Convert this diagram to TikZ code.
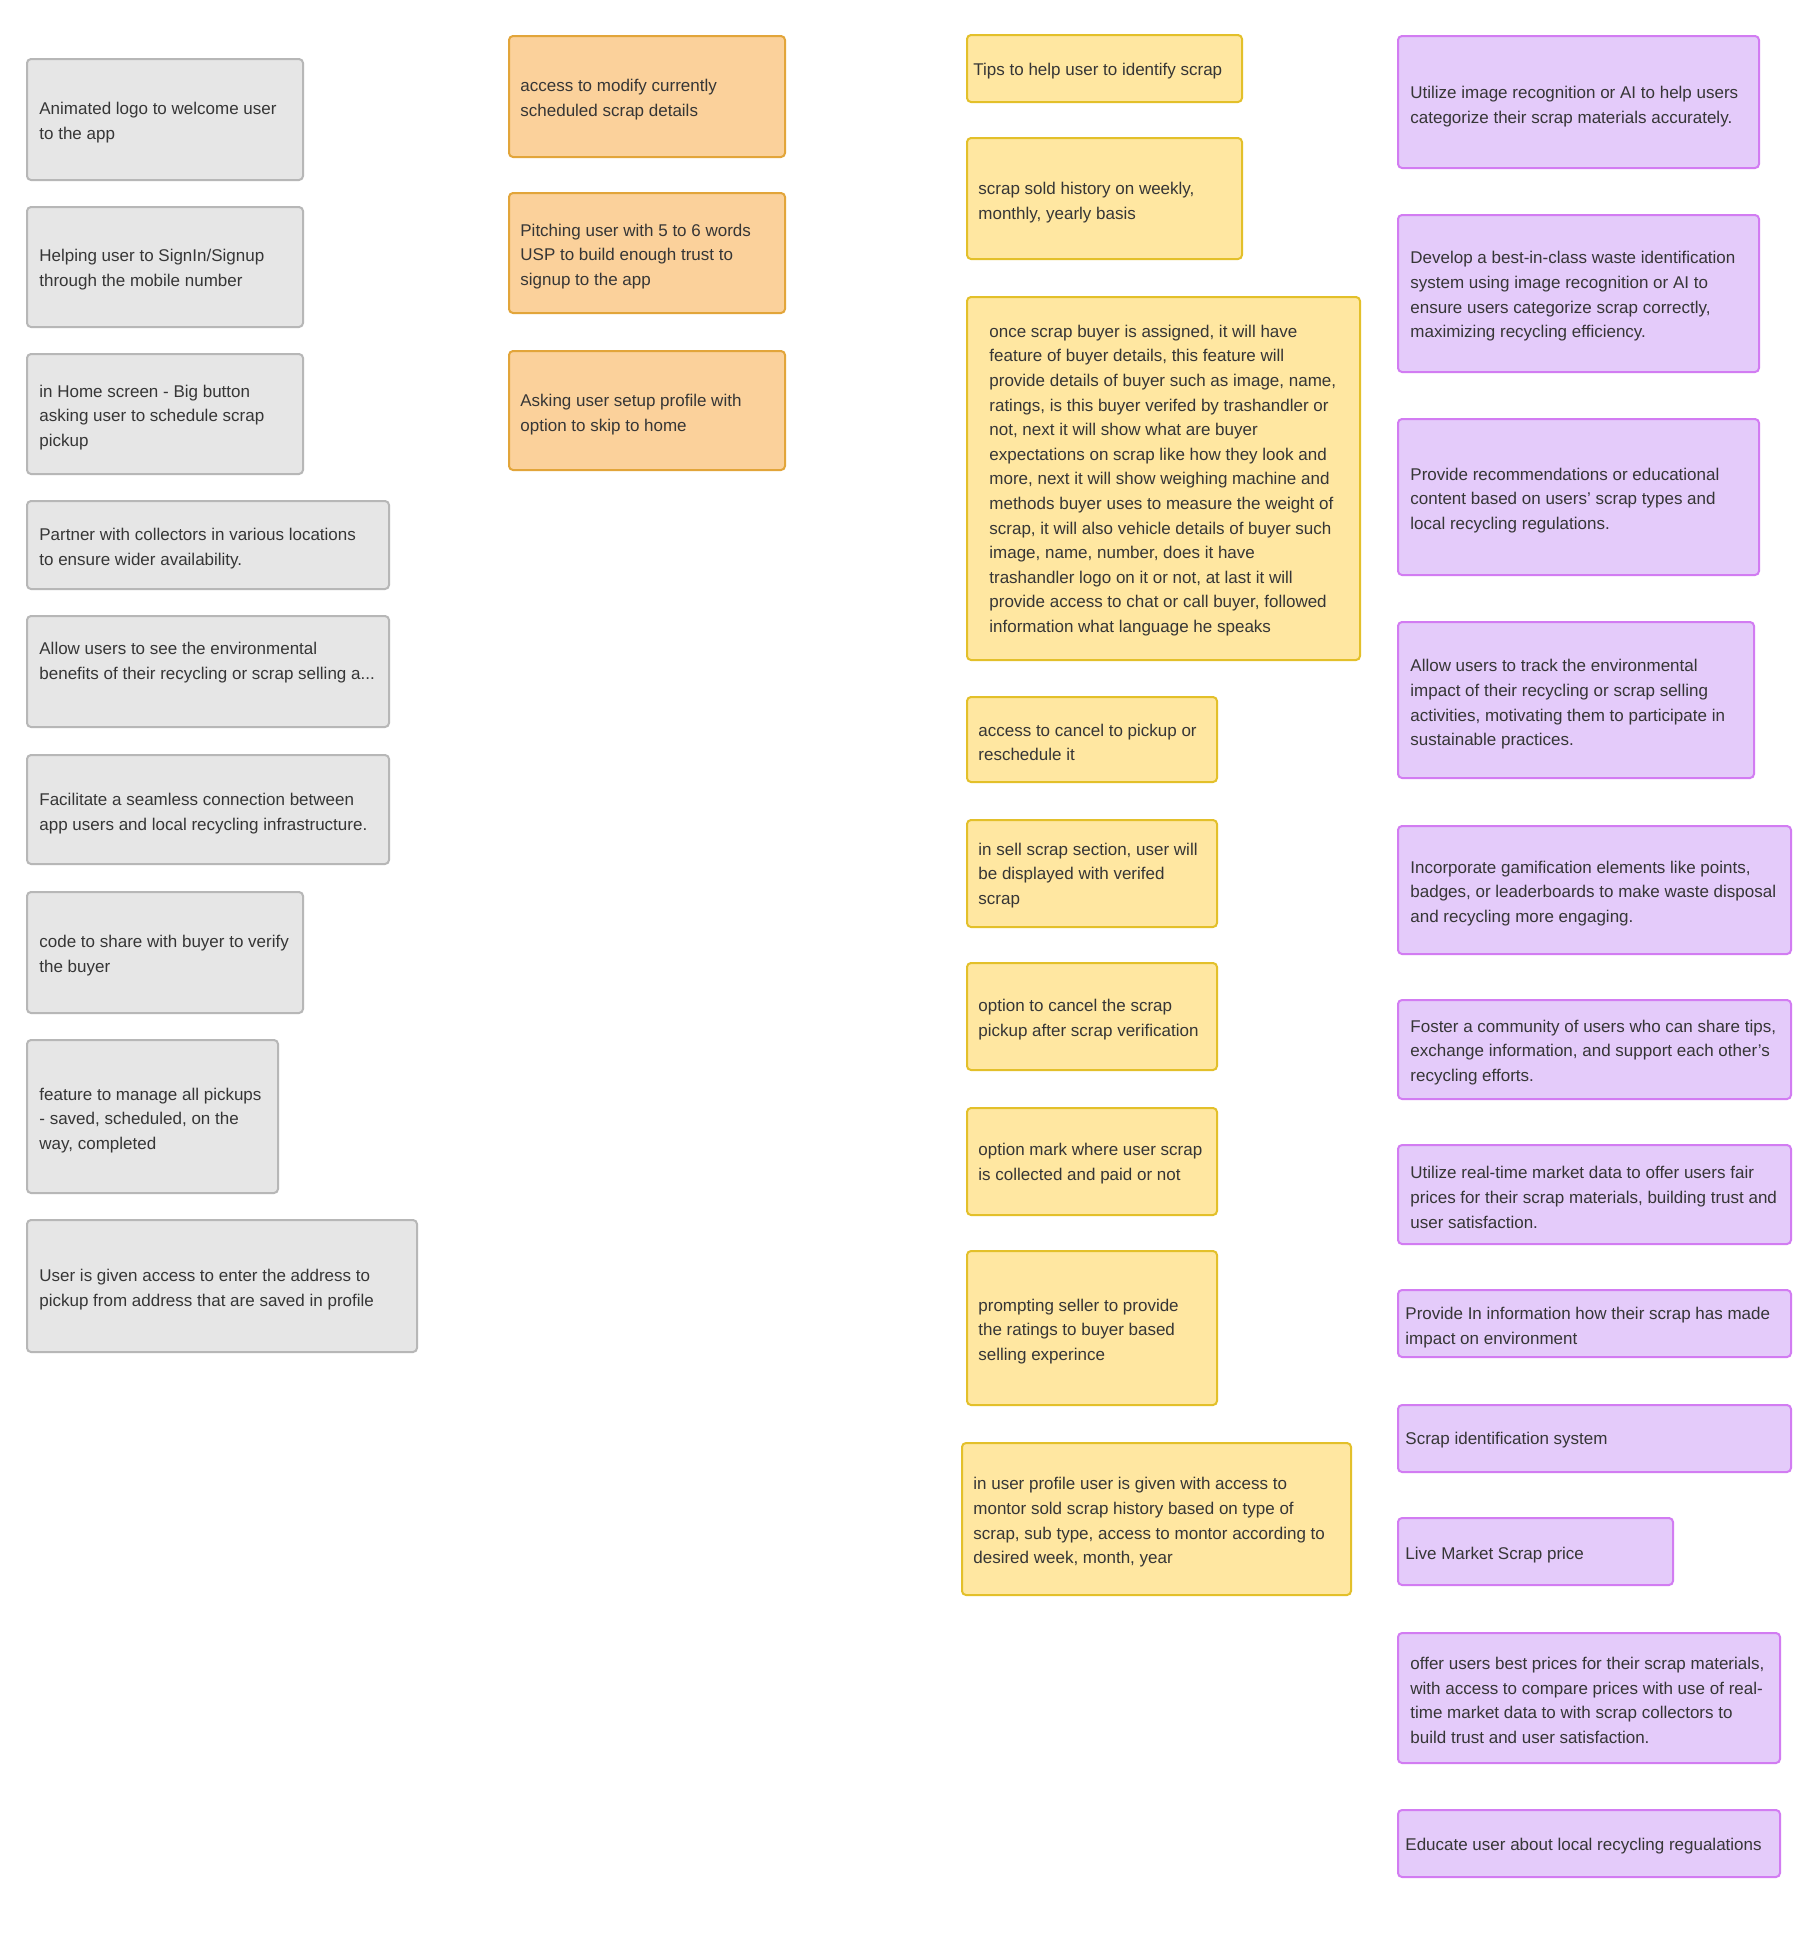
\documentclass[tikz,border=0pt]{standalone}
\usepackage{fontspec}
\setmainfont{Liberation Sans}
\definecolor{txtc}{HTML}{363636}
\definecolor{gfill}{HTML}{E6E6E6}
\definecolor{gline}{HTML}{B7B7B7}
\definecolor{ofill}{HTML}{FBD19B}
\definecolor{oline}{HTML}{E2A53A}
\definecolor{yfill}{HTML}{FFE7A1}
\definecolor{yline}{HTML}{E3C02A}
\definecolor{pfill}{HTML}{E4CBFA}
\definecolor{pline}{HTML}{D27CF2}
\tikzset{
  card/.style={line width=1pt, rounded corners=2pt},
  graycard/.style={card, fill=gfill, draw=gline},
  orangecard/.style={card, fill=ofill, draw=oline},
  yellowcard/.style={card, fill=yfill, draw=yline},
  purplecard/.style={card, fill=pfill, draw=pline},
  txt/.style={anchor=west, align=left, inner sep=0pt, text=txtc, yshift=-1.2pt,
    font=\fontsize{8.5}{12.3}\selectfont}
}
\newcommand\card[9]{\draw[#2] (#3,#4) rectangle (#5,#6); \node[txt] (#1) at (#7,#8) {#9};}
\begin{document}
\begin{tikzpicture}[x=0.5pt,y=-0.5pt]
\useasboundingbox[fill=white] (0,0) rectangle (1820,1956);
% gray column
\card{g1}{graycard}{27}{59}{303}{180}{39}{120}{Animated logo to welcome user\\to the app}
\card{g2}{graycard}{27}{207}{303}{327}{39}{267}{Helping user to SignIn/Signup\\through the mobile number}
\card{g3}{graycard}{27}{354}{303}{474}{39}{415}{in Home screen - Big button\\asking user to schedule scrap\\pickup}
\card{g4}{graycard}{27}{501}{389}{589}{39}{546}{Partner with collectors in various locations\\to ensure wider availability.}
\card{g5}{graycard}{27}{616}{389}{727}{39}{660}{Allow users to see the environmental\\benefits of their recycling or scrap selling a...}
\card{g6}{graycard}{27}{755}{389}{864}{39}{811}{Facilitate a seamless connection between\\app users and local recycling infrastructure.}
\card{g7}{graycard}{27}{892}{303}{1013}{39}{953}{code to share with buyer to verify\\the buyer}
\card{g8}{graycard}{27}{1040}{278}{1193}{39}{1118}{feature to manage all pickups\\- saved, scheduled, on the\\way, completed}
\card{g9}{graycard}{27}{1220}{417}{1352}{39}{1287}{User is given access to enter the address to\\pickup from address that are saved in profile}
% orange column
\card{o1}{orangecard}{509}{36}{785}{157}{520}{97}{access to modify currently\\scheduled scrap details}
\card{o2}{orangecard}{509}{193}{785}{313}{520}{254}{Pitching user with 5 to 6 words\\USP to build enough trust to\\signup to the app}
\card{o3}{orangecard}{509}{351}{785}{470}{520}{412}{Asking user setup profile with\\option to skip to home}
% yellow column
\card{y1}{yellowcard}{967}{35}{1242}{102}{973}{69}{Tips to help user to identify scrap}
\card{y2}{yellowcard}{967}{138}{1242}{259}{978}{200}{scrap sold history on weekly,\\monthly, yearly basis}
\card{y3}{yellowcard}{967}{297}{1360}{660}{989}{478}{once scrap buyer is assigned, it will have\\feature of buyer details, this feature will\\provide details of buyer such as image, name,\\ratings, is this buyer verifed by trashandler or\\not, next it will show what are buyer\\expectations on scrap like how they look and\\more, next it will show weighing machine and\\methods buyer uses to measure the weight of\\scrap, it will also vehicle details of buyer such\\image, name, number, does it have\\trashandler logo on it or not, at last it will\\provide access to chat or call buyer, followed\\information what language he speaks}
\card{y4}{yellowcard}{967}{697}{1217}{782}{978}{740}{access to cancel to pickup or\\reschedule it}
\card{y5}{yellowcard}{967}{820}{1217}{927}{978}{873}{in sell scrap section, user will\\be displayed with verifed\\scrap}
\card{y6}{yellowcard}{967}{963}{1217}{1070}{978}{1017}{option to cancel the scrap\\pickup after scrap verification}
\card{y7}{yellowcard}{967}{1108}{1217}{1215}{978}{1161}{option mark where user scrap\\is collected and paid or not}
\card{y8}{yellowcard}{967}{1251}{1217}{1405}{978}{1329}{prompting seller to provide\\the ratings to buyer based\\selling experince}
\card{y9}{yellowcard}{962}{1443}{1351}{1595}{973}{1520}{in user profile user is given with access to\\montor sold scrap history based on type of\\scrap, sub type, access to montor according to\\desired week, month, year}
% purple column
\card{p1}{purplecard}{1398}{36}{1759}{168}{1410}{104}{Utilize image recognition or AI to help users\\categorize their scrap materials accurately.}
\card{p2}{purplecard}{1398}{215}{1759}{372}{1410}{294}{Develop a best-in-class waste identification\\system using image recognition or AI to\\ensure users categorize scrap correctly,\\maximizing recycling efficiency.}
\card{p3}{purplecard}{1398}{419}{1759}{575}{1410}{498}{Provide recommendations or educational\\content based on users' scrap types and\\local recycling regulations.}
\card{p4}{purplecard}{1398}{622}{1754}{778}{1410}{702}{Allow users to track the environmental\\impact of their recycling or scrap selling\\activities, motivating them to participate in\\sustainable practices.}
\card{p5}{purplecard}{1398}{826}{1791}{954}{1410}{891}{Incorporate gamification elements like points,\\badges, or leaderboards to make waste disposal\\and recycling more engaging.}
\card{p6}{purplecard}{1398}{1000}{1791}{1099}{1410}{1050}{Foster a community of users who can share tips,\\exchange information, and support each other's\\recycling efforts.}
\card{p7}{purplecard}{1398}{1145}{1791}{1244}{1410}{1195}{Utilize real-time market data to offer users fair\\prices for their scrap materials, building trust and\\user satisfaction.}
\card{p8}{purplecard}{1398}{1290}{1791}{1357}{1405}{1325}{Provide In information how their scrap has made\\impact on environment}
\card{p9}{purplecard}{1398}{1405}{1791}{1472}{1405}{1438}{Scrap identification system}
\card{p10}{purplecard}{1398}{1518}{1673}{1585}{1405}{1553}{Live Market Scrap price}
\card{p11}{purplecard}{1398}{1633}{1780}{1763}{1410}{1698}{offer users best prices for their scrap materials,\\with access to compare prices with use of real-\\time market data to with scrap collectors to\\build trust and user satisfaction.}
\card{p12}{purplecard}{1398}{1810}{1780}{1877}{1405}{1844}{Educate user about local recycling regualations}
\end{tikzpicture}
\end{document}
